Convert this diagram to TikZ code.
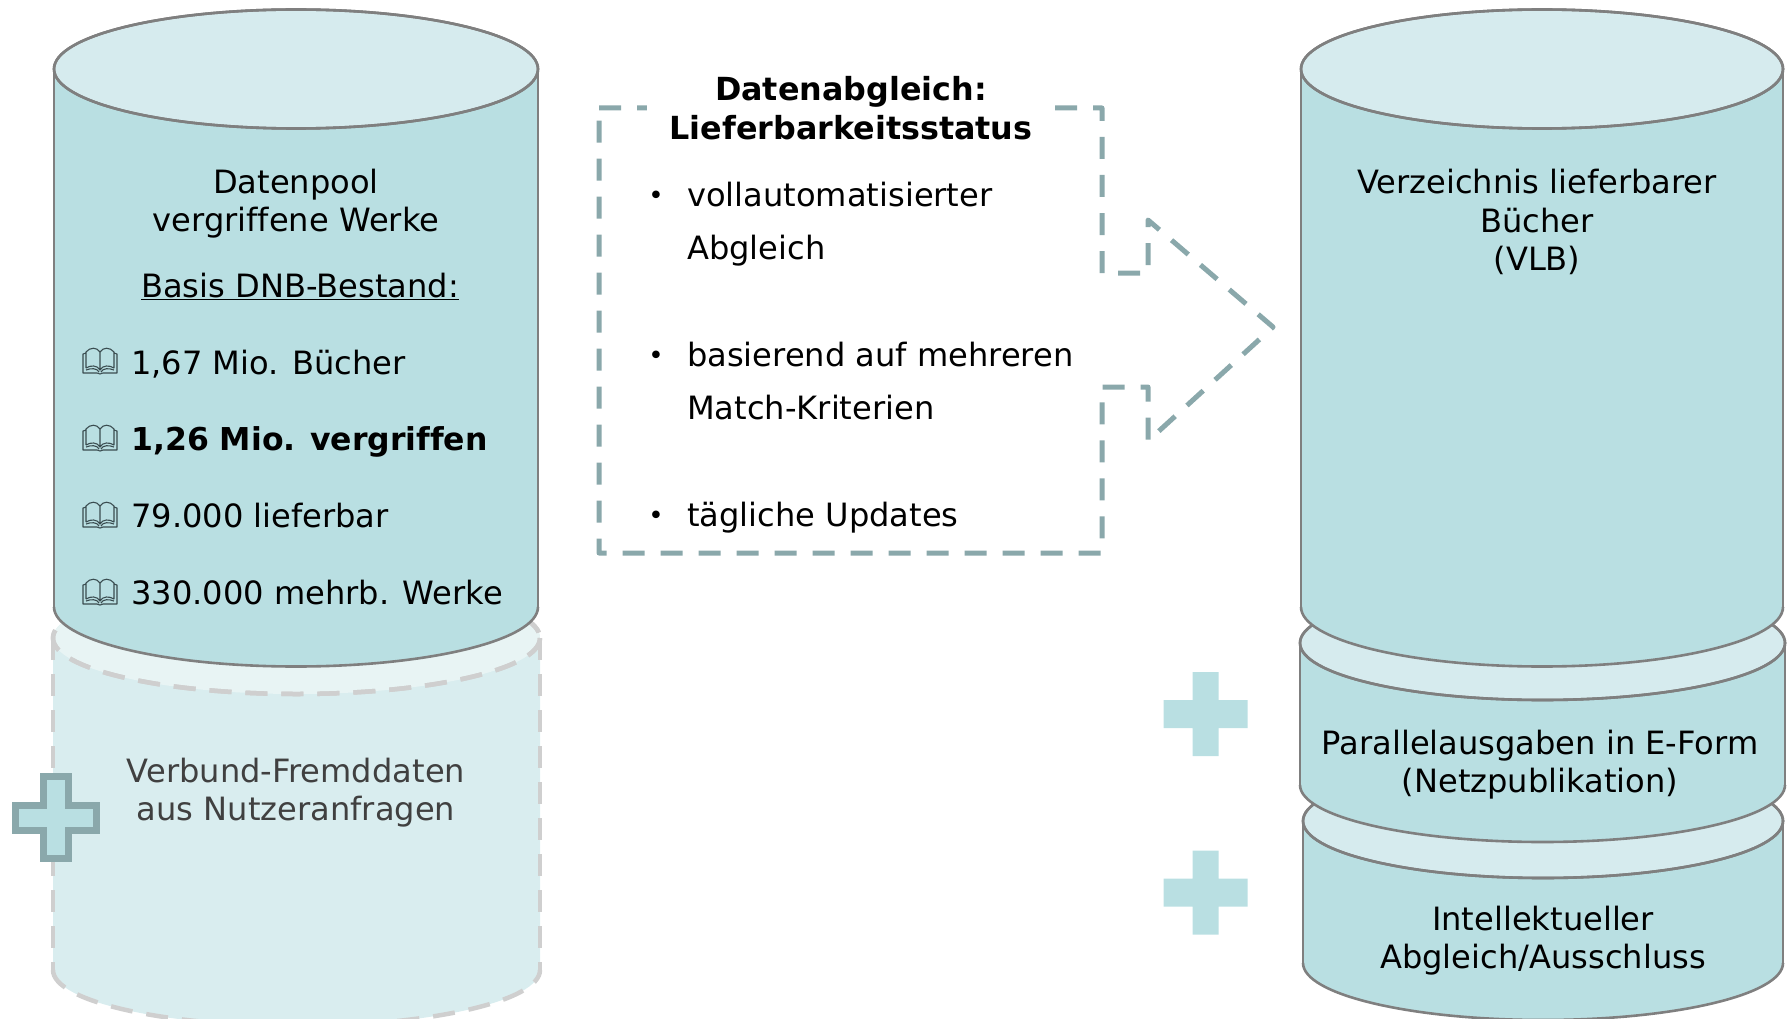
\documentclass[tikz,border=0pt]{standalone}
\usepackage{fontspec}
\setmainfont[Ligatures=CommonOff]{DejaVu Sans}
\definecolor{canbody}{HTML}{B9DFE2}
\definecolor{cantop}{HTML}{D6EBEE}
\definecolor{canline}{HTML}{7F7F7F}
\definecolor{ghostbody}{HTML}{D9EDEF}
\definecolor{ghosttop}{HTML}{E8F4F4}
\definecolor{ghostline}{HTML}{CFCFCF}
\definecolor{callline}{HTML}{8AA8AB}
\definecolor{bookline}{HTML}{3A4C50}
\newcommand{\candrum}[6]{% style, cx, rx, ytop, ybot, ry
  \path[#1,draw=none] (#2-#3,#4) -- (#2-#3,#5) arc[start angle=180,end angle=0,x radius=#3,y radius=#6] -- (#2+#3,#4) arc[start angle=0,end angle=-180,x radius=#3,y radius=#6] -- cycle;
  \fill[#1,fill=\cantopcolor] (#2,#4) ellipse[x radius=#3,y radius=#6];
  \draw[#1,fill=none] (#2-#3,#5) arc[start angle=180,end angle=0,x radius=#3,y radius=#6];
  \draw[#1,fill=none] (#2-#3,#4) -- (#2-#3,#5) (#2+#3,#4) -- (#2+#3,#5);
  \draw[#1,fill=none] (#2,#4) ellipse[x radius=#3,y radius=#6];
}
\newcommand{\cantopcolor}{cantop}
\tikzset{
  x=1pt,y=-1pt,
  solidcan/.style={fill=canbody,draw=canline,line width=2.6pt},
  ghostcan/.style={fill=ghostbody,draw=ghostline,line width=4.5pt,dash pattern=on 22pt off 14pt},
  lbl/.style={inner sep=0pt,align=center,font=\fontsize{32.1}{38.4}\selectfont},
  lefttxt/.style={lbl,align=left,anchor=west},
  listtxt/.style={inner sep=0pt,align=left,anchor=north west,font=\fontsize{32.1}{53}\selectfont},
  dot/.style={inner sep=0pt,font=\fontsize{26}{26}\selectfont},
  callout/.style={draw=callline,line width=5pt,line join=round,dash pattern=on 22pt off 16pt},
  bookicon/.pic={
    \draw[draw=bookline,line width=1.1pt,line join=round]
      (-14,8) -- (-14,-8) .. controls (-10,-13) and (-3,-13) .. (0,-8) .. controls (3,-13) and (10,-13) .. (14,-8) -- (14,8)
      .. controls (9,5) and (3,5) .. (0,10) .. controls (-3,5) and (-9,5) .. (-14,8)
      (0,-8) -- (0,10)
      (-14,-7) -- (-17,-6) -- (-17,13) -- (-3,13) -- (0,14) -- (3,13) -- (17,13) -- (17,-6) -- (14,-7)
      (-14,10) .. controls (-9,8) and (-3,8) .. (-1,12)
      (14,10) .. controls (9,8) and (3,8) .. (1,12);
  },
}
\newcommand{\plusshape}[2]{% cx, cy
  (#1-13,#2-42) -- (#1+13,#2-42) -- (#1+13,#2-14) -- (#1+42,#2-14) -- (#1+42,#2+14) -- (#1+13,#2+14) -- (#1+13,#2+42) -- (#1-13,#2+42) -- (#1-13,#2+14) -- (#1-42,#2+14) -- (#1-42,#2-14) -- (#1-13,#2-14) -- cycle}
\begin{document}
\begin{tikzpicture}
\useasboundingbox (0,0) rectangle (1787,1019);
\begin{scope}
\clip (0,0) rectangle (1787,1019);
\renewcommand{\cantopcolor}{ghosttop}
\candrum{ghostcan}{296.5}{243.5}{638}{970}{56}
\renewcommand{\cantopcolor}{cantop}
\candrum{solidcan}{296}{242}{69}{607}{59.5}
\candrum{solidcan}{1543}{240}{821}{963}{57}
\candrum{solidcan}{1542.5}{242.5}{643}{785}{57}
\candrum{solidcan}{1542}{241}{69}{607}{59.5}
\end{scope}
\fill[canbody] \plusshape{1205.5}{714};
\fill[canbody] \plusshape{1205.5}{892.5};
\draw[fill=canbody,draw=callline,line width=7pt] (43.5,776.5) -- (68.5,776.5) -- (68.5,805.5) -- (96.5,805.5) -- (96.5,830.5) -- (68.5,830.5) -- (68.5,858.5) -- (43.5,858.5) -- (43.5,830.5) -- (15.5,830.5) -- (15.5,805.5) -- (43.5,805.5) -- cycle;
\draw[callout] (599,108) -- (1102,108) -- (1102,273) -- (1148,273) -- (1148,220) -- (1273,327) -- (1148,441) -- (1148,387) -- (1102,387) -- (1102,553) -- (599,553) -- cycle;
\node[lbl,fill=white,minimum width=408pt,inner ysep=2pt,font=\bfseries\fontsize{31.8}{39.5}\selectfont] (title) at (851,112) {\strut Datenabgleich:\\\strut Lieferbarkeitsstatus};
\node[dot] (d1) at (656,198) {•};
\node[dot] (d2) at (656,358) {•};
\node[dot] (d3) at (656,518) {•};
\node[listtxt] (l1) at (687,182) {vollautomatisierter\\Abgleich};
\node[listtxt] (l2) at (687,342) {basierend auf mehreren\\Match-Kriterien};
\node[listtxt] (l3) at (687,502) {tägliche Updates};
\node[lbl] (pool) at (296,205) {\strut Datenpool\\\strut vergriffene Werke};
\node[lbl] (basis) at (300,290) {\strut\underline{Basis DNB-Bestand:}};
\pic at (100,360) {bookicon};
\pic at (100,437) {bookicon};
\pic at (100,514) {bookicon};
\pic at (100,591) {bookicon};
\node[lefttxt] (i1) at (131,367) {\strut 1,67 Mio. Bücher};
\node[lefttxt,font=\bfseries\fontsize{31.5}{38.4}\selectfont] (i2) at (131,443) {\strut 1,26 Mio. vergriffen};
\node[lefttxt] (i3) at (131,520) {\strut 79.000 lieferbar};
\node[lefttxt] (i4) at (131,597.3) {\strut 330.000 mehrb. Werke};
\node[lbl,text=black!75] (verbund) at (296,794) {\strut Verbund-Fremddaten\\\strut aus Nutzeranfragen};
\node[lbl] (vlb) at (1537,224.5) {\strut Verzeichnis lieferbarer\\\strut Bücher\\\strut (VLB)};
\node[lbl] (par) at (1540,766) {\strut Parallelausgaben in E-Form\\\strut (Netzpublikation)};
\node[lbl] (intel) at (1543,942) {\strut Intellektueller\\\strut Abgleich/Ausschluss};
\end{tikzpicture}
\end{document}
